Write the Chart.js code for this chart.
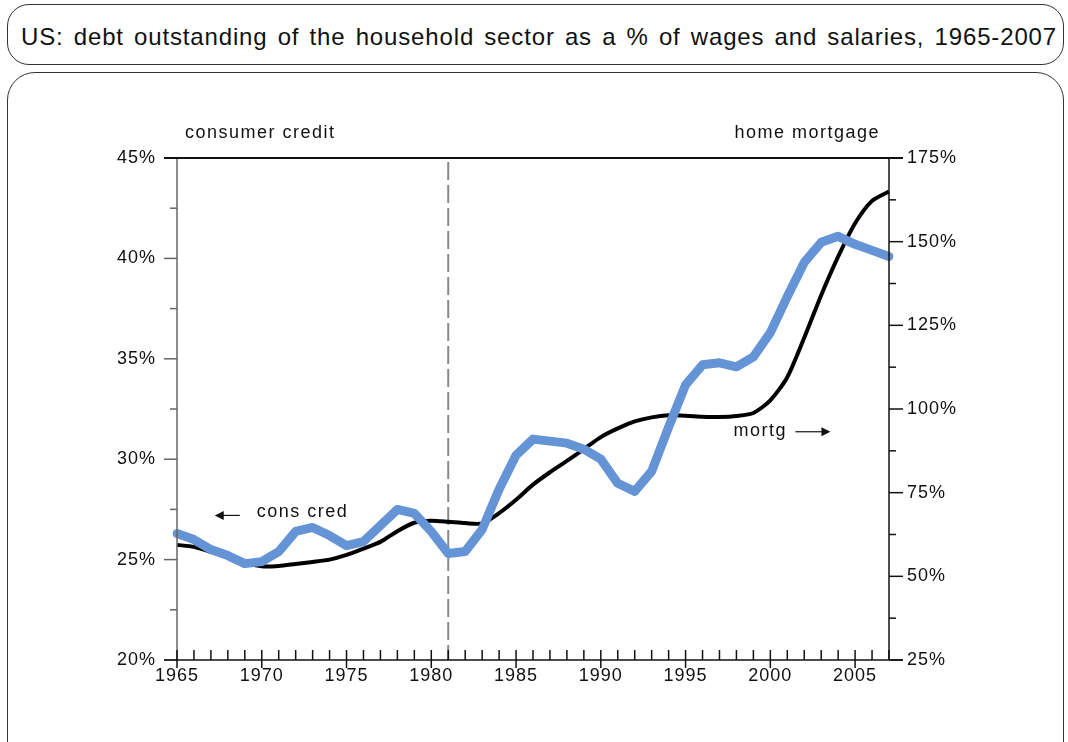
<!DOCTYPE html>
<html>
<head>
<meta charset="utf-8">
<title>US household debt</title>
<script src="https://cdn.jsdelivr.net/npm/chart.js"></script>
<style>
  body { margin: 0; background: #fff; font-family: "Liberation Sans", Arial, sans-serif; }
  .box { position: absolute; left: 7px; width: 1057px; border: 1.5px solid #333; box-sizing: border-box; }
  #titlebox { top: 4px; height: 61px; border-radius: 22px; }
  #panel { top: 72px; height: 720px; border-radius: 28px; }
  #title { position: absolute; left: 21px; width: 1036px; top: 23px; font-size: 24px; color: #111;
           letter-spacing: 0.85px; text-align: justify; text-align-last: justify; white-space: nowrap; }
  #myChart { position: absolute; left: 0; top: 0; }
</style>
</head>
<body>
<div class="box" id="titlebox"></div>
<div id="title">US: debt outstanding of the household sector as a % of wages and salaries, 1965-2007</div>
<div class="box" id="panel"></div>
<canvas id="myChart" width="1068" height="742"></canvas>

<script>
const years = [1965,1966,1967,1968,1969,1970,1971,1972,1973,1974,
               1975,1976,1977,1978,1979,1980,1981,1982,1983,1984,
               1985,1986,1987,1988,1989,1990,1991,1992,1993,1994,
               1995,1996,1997,1998,1999,2000,2001,2002,2003,2004,
               2005,2006,2007];

// consumer credit, % of wages and salaries (left axis)
const consCred = [26.3,26.0,25.5,25.2,24.8,24.9,25.4,26.4,26.6,26.2,
                  25.7,25.9,26.7,27.5,27.3,26.4,25.3,25.4,26.5,28.5,
                  30.2,31.0,30.9,30.8,30.5,30.0,28.8,28.4,29.4,31.6,
                  33.7,34.7,34.8,34.6,35.1,36.3,38.1,39.8,40.8,41.1,
                  40.7,40.4,40.1];

// home mortgage, % of wages and salaries (right axis)
const mortgage = [59.4,58.8,57.3,55.8,54.0,53.0,53.1,53.7,54.3,55.0,
                  56.4,58.3,60.3,63.5,66.0,66.6,66.3,65.9,65.8,68.9,
                  72.9,77.4,81.1,84.5,88.0,91.6,94.2,96.3,97.5,98.1,
                  98.0,97.7,97.6,97.9,98.8,102.6,109.5,121.3,134.0,145.5,
                  155.5,162.2,165.0];

const markerYear = 1981;

Chart.defaults.font.family = '"Liberation Sans", Arial, sans-serif';
Chart.defaults.color = '#111';

const W = 1068, H = 742;
const plotLeft = 177, plotRight = 889, plotTop = 158, plotBottom = 660;

// axes, ticks, dashed marker and annotations
const frame = {
  id: 'frame',
  beforeDraw(chart) {
    // a little tracking on all text, tick labels included
    chart.ctx.letterSpacing = '1px';
  },
  beforeDatasetsDraw(chart) {
    const ctx = chart.ctx;
    const x = chart.scales.x;
    const a = chart.chartArea;
    ctx.save();
    const mx = x.getPixelForValue(years.indexOf(markerYear));
    ctx.strokeStyle = '#888';
    ctx.lineWidth = 2;
    ctx.setLineDash([18, 5]);
    ctx.beginPath();
    ctx.moveTo(mx, a.top + 4);
    ctx.lineTo(mx, a.bottom);
    ctx.stroke();
    ctx.restore();
  },
  afterDatasetsDraw(chart) {
    const ctx = chart.ctx;
    const x = chart.scales.x, yl = chart.scales.y, yr = chart.scales.y2;
    const a = chart.chartArea;
    ctx.save();
    ctx.lineCap = 'butt';
    // left axis (grey)
    ctx.strokeStyle = '#666';
    ctx.lineWidth = 1.5;
    ctx.beginPath(); ctx.moveTo(a.left, a.top); ctx.lineTo(a.left, a.bottom); ctx.stroke();
    yl.ticks.forEach(t => {
      const py = yl.getPixelForValue(t.value);
      const len = t.value % 5 === 0 ? 13 : 7;
      ctx.beginPath(); ctx.moveTo(a.left - len, py); ctx.lineTo(a.left, py); ctx.stroke();
    });
    // right axis
    ctx.strokeStyle = '#111';
    ctx.beginPath(); ctx.moveTo(a.right, a.top); ctx.lineTo(a.right, a.bottom); ctx.stroke();
    yr.ticks.forEach(t => {
      const py = yr.getPixelForValue(t.value);
      const len = t.value % 25 === 0 ? 14 : 7;
      ctx.beginPath(); ctx.moveTo(a.right, py); ctx.lineTo(a.right + len, py); ctx.stroke();
    });
    // top and bottom lines
    ctx.lineWidth = 2;
    ctx.beginPath(); ctx.moveTo(a.left - 13, a.top); ctx.lineTo(a.right + 14, a.top); ctx.stroke();
    ctx.lineWidth = 1.5;
    ctx.beginPath(); ctx.moveTo(a.left - 13, a.bottom); ctx.lineTo(a.right + 14, a.bottom); ctx.stroke();
    // x ticks, pointing up, majors crossing the axis
    years.forEach((yv, i) => {
      const px = x.getPixelForValue(i);
      const major = yv % 5 === 0;
      ctx.beginPath();
      ctx.moveTo(px, a.bottom - 10);
      ctx.lineTo(px, a.bottom + (major ? 8 : 0));
      ctx.stroke();
    });

    // texts
    ctx.fillStyle = '#111';
    ctx.font = '18px "Liberation Sans", Arial, sans-serif';
    ctx.letterSpacing = '1.5px';
    ctx.textBaseline = 'middle';
    ctx.textAlign = 'left';
    ctx.fillText('consumer credit', a.left + 8, a.top - 25);
    ctx.textAlign = 'right';
    ctx.fillText('home mortgage', a.right - 9, a.top - 25);

    // cons cred label with left arrow
    const cx = x.getPixelForValue(years.indexOf(1970)) - 5;
    const cy = yl.getPixelForValue(27.35);
    ctx.textAlign = 'left';
    ctx.fillText('cons cred', cx, cy);
    drawArrow(ctx, cx - 17, cy + 3, cx - 42, cy + 3);

    // mortg label with right arrow
    const ox = x.getPixelForValue(years.indexOf(1998)) - 3;
    const oy = yr.getPixelForValue(93.5);
    ctx.fillText('mortg', ox, oy);
    drawArrow(ctx, ox + 62, oy + 1, ox + 97, oy + 1);
    ctx.restore();
  }
};

function drawArrow(ctx, x0, y0, x1, y1) {
  const dir = Math.sign(x1 - x0);
  ctx.strokeStyle = '#111';
  ctx.lineWidth = 1.2;
  ctx.beginPath(); ctx.moveTo(x0, y0); ctx.lineTo(x1 - dir * 8, y1); ctx.stroke();
  ctx.beginPath();
  ctx.moveTo(x1, y1);
  ctx.lineTo(x1 - dir * 9, y1 - 4.5);
  ctx.lineTo(x1 - dir * 9, y1 + 4.5);
  ctx.closePath();
  ctx.fill();
}

const ctx = document.getElementById('myChart');
new Chart(ctx, {
  type: 'line',
  data: {
    labels: years,
    datasets: [
      {
        label: 'home mortgage',
        data: mortgage,
        yAxisID: 'y2',
        borderColor: '#000',
        borderWidth: 4,
        pointRadius: 0,
        tension: 0.25,
        borderJoinStyle: 'round',
        order: 2
      },
      {
        label: 'consumer credit',
        data: consCred,
        yAxisID: 'y',
        borderColor: '#6494d6',
        borderWidth: 9,
        pointRadius: 0,
        tension: 0,
        borderJoinStyle: 'round',
        borderCapStyle: 'round',
        order: 1
      }
    ]
  },
  options: {
    responsive: false,
    animation: false,
    layout: { padding: { top: plotTop, left: 0, right: 0, bottom: 0 } },
    plugins: { legend: { display: false }, tooltip: { enabled: false } },
    scales: {
      x: {
        type: 'category',
        offset: false,
        grid: { display: false, drawTicks: false },
        border: { display: false },
        afterFit(s) { s.height = H - plotBottom; },
        ticks: {
          autoSkip: false,
          maxRotation: 0,
          padding: 5,
          font: { size: 18 },
          callback(v, i) { return years[i] % 5 === 0 ? String(years[i]) : ''; }
        }
      },
      y: {
        position: 'left',
        min: 20, max: 45,
        grid: { display: false, drawTicks: false },
        border: { display: false },
        afterFit(s) { s.width = plotLeft; },
        ticks: {
          stepSize: 2.5,
          padding: 21,
          font: { size: 18 },
          callback(v) { return v % 5 === 0 ? v + '%' : ''; }
        }
      },
      y2: {
        position: 'right',
        min: 25, max: 175,
        grid: { display: false, drawTicks: false },
        border: { display: false },
        afterFit(s) { s.width = W - plotRight; },
        ticks: {
          stepSize: 12.5,
          padding: 18,
          font: { size: 18 },
          callback(v) { return v % 25 === 0 ? v + '%' : ''; }
        }
      }
    }
  },
  plugins: [frame]
});
</script>
</body>
</html>
